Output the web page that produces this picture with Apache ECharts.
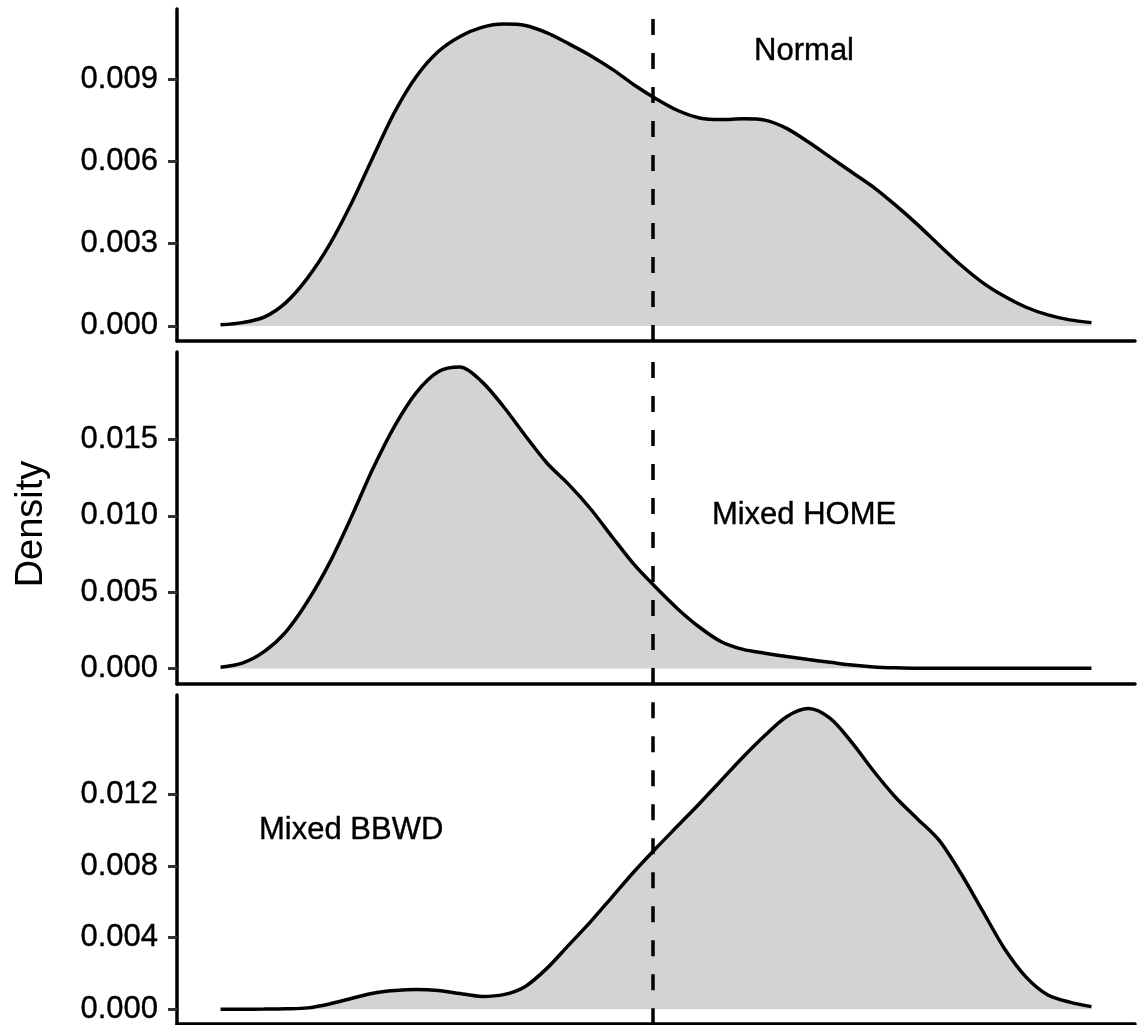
<!DOCTYPE html>
<html>
<head>
<meta charset="utf-8">
<title>Density</title>
<script src="https://cdn.jsdelivr.net/npm/echarts@6/dist/echarts.min.js"></script>
<style>
  html, body { margin: 0; padding: 0; background: #fff; }
  #main { width: 1140px; height: 1025px; }
</style>
</head>
<body>
<div id="main"></div>
<script>
  // shared x grid (arbitrary units, no x labels in the figure)
  var xs = [0, 2.5, 5, 7.5, 10, 12.5, 15, 17.5, 20, 22.5, 25, 27.5, 30, 32.5, 35, 37.5, 40, 42.5, 45, 47.5,
            50, 52.5, 55, 57.5, 60, 62.5, 65, 67.5, 70, 72.5, 75, 77.5, 80, 82.5, 85, 87.5, 90, 92.5, 95, 97.5, 100];

  var normal = [0.00004, 0.00012, 0.00032, 0.00085, 0.00175, 0.00295, 0.00445, 0.00615, 0.00780, 0.00910,
                0.01000, 0.01055, 0.01088, 0.01100, 0.01095, 0.01068, 0.01028, 0.00985, 0.00935, 0.00878,
                0.00828, 0.00785, 0.00758, 0.00752, 0.00755, 0.00750, 0.00720, 0.00670, 0.00615, 0.00560,
                0.00505, 0.00440, 0.00370, 0.00295, 0.00222, 0.00158, 0.00108, 0.00068, 0.00040, 0.00022, 0.00012];

  var mixedHome = [0.00008, 0.00035, 0.00110, 0.00240, 0.00440, 0.00690, 0.00990, 0.01310, 0.01590, 0.01810,
                   0.01945, 0.01975, 0.01880, 0.01715, 0.01525, 0.01345, 0.01205, 0.01045, 0.00860, 0.00680,
                   0.00530, 0.00390, 0.00270, 0.00175, 0.00125, 0.00100, 0.00078, 0.00058, 0.00040, 0.00022,
                   0.00010, 0.00004, 0.00001, 0.00001, 0.00001, 0.00001, 0.00001, 0.00001, 0.00001, 0.00001, 0.00001];

  var mixedBbwd = [0.00000, 0.00000, 0.00001, 0.00003, 0.00008, 0.00030, 0.00060, 0.00090, 0.00105, 0.00111,
                   0.00105, 0.00088, 0.00072, 0.00082, 0.00128, 0.00230, 0.00360, 0.00490, 0.00630, 0.00770,
                   0.00900, 0.01025, 0.01150, 0.01280, 0.01410, 0.01530, 0.01635, 0.01680, 0.01625, 0.01490,
                   0.01330, 0.01185, 0.01065, 0.00945, 0.00760, 0.00550, 0.00340, 0.00180, 0.00080, 0.00040, 0.00015];

  var panelNames = ['Normal', 'Mixed HOME', 'Mixed BBWD'];
  var labelX = [67, 67, 15];
  var labelY = [0.010, 0.010, 0.010];
  var cutoff = 49.6;

  var yTicks = [
    [0, 0.003, 0.006, 0.009],
    [0, 0.005, 0.010, 0.015],
    [0, 0.004, 0.008, 0.012]
  ];
  var yRange = [[-0.00055, 0.01155], [-0.00102, 0.02074], [-0.00083, 0.01756]];

  var curves = [normal, mixedHome, mixedBbwd];
  var tops = [9, 352, 695];
  var heights = [332, 332, 331];

  var fontName = '"Liberation Sans", Arial, sans-serif';

  var grids = [], xAxes = [], yAxes = [], series = [];

  for (var p = 0; p < 3; p++) {
    grids.push({ left: 177, right: 5, top: tops[p], height: heights[p] });

    xAxes.push({
      gridIndex: p,
      type: 'value',
      min: -5,
      max: 105,
      axisLine: { show: true, onZero: false, lineStyle: { color: '#000', width: 3.5 } },
      axisTick: { show: false },
      axisLabel: { show: false },
      splitLine: { show: false }
    });

    yAxes.push({
      gridIndex: p,
      type: 'value',
      min: yRange[p][0],
      max: yRange[p][1],
      axisLine: { show: true, onZero: false, lineStyle: { color: '#000', width: 3.5 } },
      axisTick: { show: true, length: 9, customValues: yTicks[p], lineStyle: { color: '#333', width: 3 } },
      axisLabel: {
        customValues: yTicks[p],
        margin: 19,
        color: '#000',
        fontSize: 31,
        fontFamily: fontName,
        textBorderColor: '#000',
        textBorderWidth: 0.4,
        formatter: function (v) { return v.toFixed(3); }
      },
      splitLine: { show: false }
    });

    var pts = curves[p].map(function (v, i) { return [xs[i], v]; });

    series.push({
      type: 'line',
      xAxisIndex: p,
      yAxisIndex: p,
      data: pts,
      smooth: 0.3,
      showSymbol: false,
      symbol: 'none',
      lineStyle: { color: '#000', width: 3.5 },
      areaStyle: { color: '#d3d3d3', opacity: 1 },
      silent: true,
      markLine: {
        silent: true,
        symbol: ['none', 'none'],
        label: { show: false },
        lineStyle: { color: '#000', width: 3.5, type: [16, 18] },
        data: [{ xAxis: cutoff }]
      },
      z: 2
    });

    // panel annotation, placed at data coordinates
    series.push({
      type: 'scatter',
      xAxisIndex: p,
      yAxisIndex: p,
      symbolSize: 0,
      silent: true,
      data: [{ value: [labelX[p], labelY[p]], name: panelNames[p] }],
      label: {
        show: true,
        position: [0, 0],
        align: 'center',
        verticalAlign: 'middle',
        formatter: '{b}',
        color: '#000',
        opacity: 1,
        fontSize: 31,
        fontFamily: fontName,
        textBorderColor: '#000',
        textBorderWidth: 0.4
      },
      z: 3
    });
  }

  var chart = echarts.init(document.getElementById('main'));
  chart.setOption({
    animation: false,
    backgroundColor: '#fff',
    grid: grids,
    xAxis: xAxes,
    yAxis: yAxes,
    series: series,
    graphic: [{
      type: 'text',
      x: 32,
      y: 524,
      rotation: Math.PI / 2,
      style: {
        text: 'Density',
        fill: '#000',
        font: '38px ' + fontName,
        align: 'center',
        verticalAlign: 'middle'
      }
    }]
  });
</script>
</body>
</html>
